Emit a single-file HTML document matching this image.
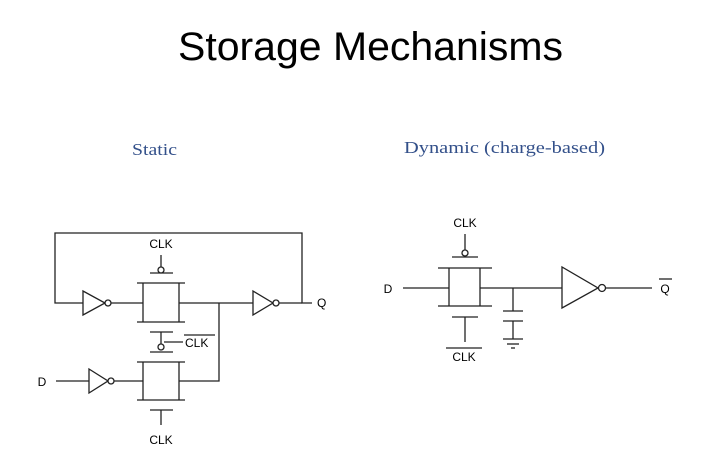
<!DOCTYPE html>
<html><head><style>html,body{margin:0;padding:0;background:#fff;}svg{display:block}</style></head>
<body>
<svg width="720" height="456" viewBox="0 0 720 456" xmlns="http://www.w3.org/2000/svg">
<text x="178" y="60" font-family="Liberation Sans, sans-serif" font-size="40" textLength="385" lengthAdjust="spacingAndGlyphs" fill="#000">Storage Mechanisms</text>
<text x="132" y="155" font-family="Liberation Serif, serif" font-size="17" textLength="45" lengthAdjust="spacingAndGlyphs" fill="#33508a">Static</text>
<text x="404" y="153" font-family="Liberation Serif, serif" font-size="17" textLength="201" lengthAdjust="spacingAndGlyphs" fill="#33508a">Dynamic (charge-based)</text>
<g stroke="#222" stroke-width="1.3" fill="none">
<!-- static -->
<polyline points="83,303 55,303 55,233 302,233 302,303 312,303"/>
<polygon points="83,291 83,315 105,303"/>
<circle cx="108" cy="303" r="3" fill="#fff"/>
<line x1="111" y1="303" x2="143" y2="303"/>
<line x1="137" y1="283" x2="185" y2="283"/><line x1="137" y1="322" x2="185" y2="322"/>
<line x1="143" y1="283" x2="143" y2="322"/><line x1="179" y1="283" x2="179" y2="322"/>
<line x1="150" y1="273" x2="173" y2="273"/>
<circle cx="161" cy="270" r="3" fill="#fff"/><line x1="161" y1="267" x2="161" y2="255"/>
<line x1="179" y1="303" x2="253" y2="303"/>
<polygon points="253,291 253,315 273,303"/>
<circle cx="276" cy="303" r="3" fill="#fff"/><line x1="279" y1="303" x2="302" y2="303"/>
<line x1="150" y1="332" x2="173" y2="332"/><line x1="161" y1="332" x2="161" y2="344"/>
<circle cx="161" cy="347" r="3" fill="#fff"/><line x1="150" y1="352" x2="173" y2="352"/>
<line x1="164" y1="342" x2="183" y2="342"/>
<line x1="137" y1="362" x2="185" y2="362"/><line x1="137" y1="400" x2="185" y2="400"/>
<line x1="143" y1="362" x2="143" y2="400"/><line x1="179" y1="362" x2="179" y2="400"/>
<line x1="56" y1="381" x2="89" y2="381"/>
<polygon points="89,369 89,393 108,381"/>
<circle cx="111" cy="381" r="3" fill="#fff"/><line x1="114" y1="381" x2="143" y2="381"/>
<polyline points="179,381 219,381 219,303"/>
<line x1="150" y1="410" x2="173" y2="410"/><line x1="161" y1="410" x2="161" y2="425"/>
<!-- dynamic -->
<line x1="403" y1="288" x2="449" y2="288"/>
<line x1="438" y1="268" x2="492" y2="268"/><line x1="438" y1="306" x2="492" y2="306"/>
<line x1="449" y1="268" x2="449" y2="306"/><line x1="480" y1="268" x2="480" y2="306"/>
<line x1="452" y1="257" x2="478" y2="257"/>
<circle cx="465" cy="253" r="3" fill="#fff"/><line x1="465" y1="250" x2="465" y2="234"/>
<line x1="452" y1="317" x2="478" y2="317"/><line x1="465" y1="317" x2="465" y2="342"/>
<line x1="480" y1="288" x2="562" y2="288"/>
<line x1="513" y1="288" x2="513" y2="311"/>
<line x1="503" y1="311" x2="523" y2="311"/><line x1="503" y1="321" x2="523" y2="321"/>
<line x1="513" y1="321" x2="513" y2="339"/>
<line x1="503" y1="339" x2="523" y2="339"/><line x1="507" y1="344" x2="519" y2="344"/><line x1="511" y1="348" x2="515" y2="348"/>
<polygon points="562,267 562,308 598,288"/>
<circle cx="602" cy="288" r="3.5" fill="#fff"/><line x1="606" y1="288" x2="652" y2="288"/>
<line x1="184" y1="335" x2="215" y2="335"/>
<line x1="446" y1="348" x2="482" y2="348"/>
<line x1="659" y1="279" x2="672" y2="279"/>
</g>
<g font-family="Liberation Sans, sans-serif" font-size="12" fill="#000">
<text x="161" y="248" text-anchor="middle">CLK</text>
<text x="317" y="307">Q</text>
<text x="185" y="347">CLK</text>
<text x="42" y="386" text-anchor="middle">D</text>
<text x="161" y="444" text-anchor="middle">CLK</text>
<text x="388" y="293" text-anchor="middle">D</text>
<text x="465" y="227" text-anchor="middle">CLK</text>
<text x="464" y="361" text-anchor="middle">CLK</text>
<text x="665" y="293" text-anchor="middle">Q</text>
</g>
</svg>
</body></html>
